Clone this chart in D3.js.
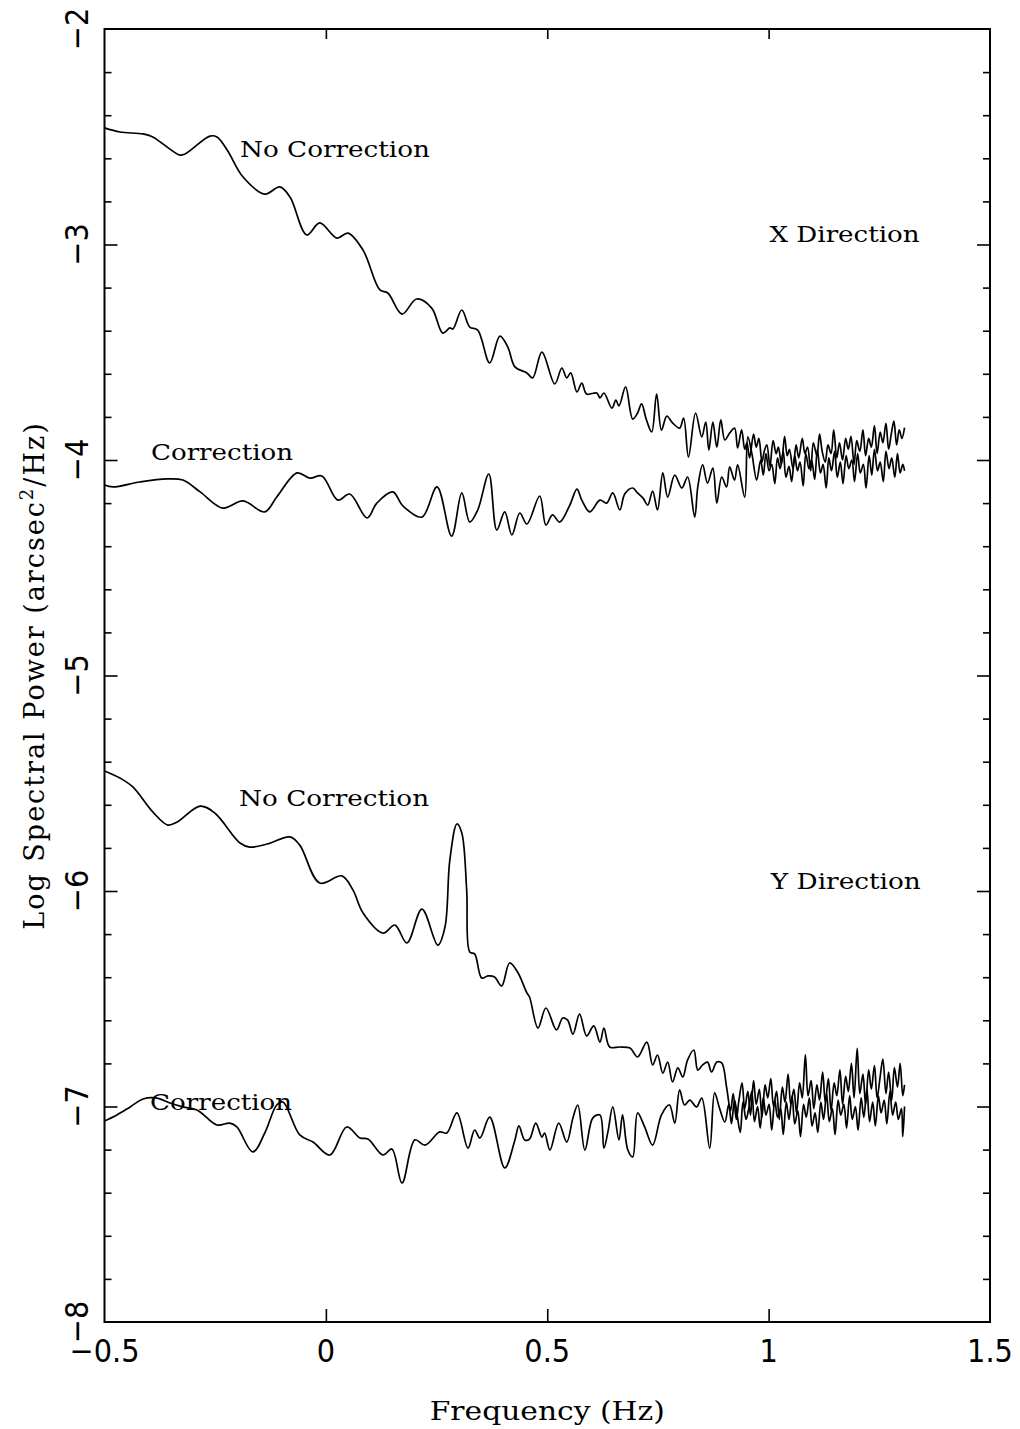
<!DOCTYPE html>
<html><head><meta charset="utf-8">
<script src="https://cdn.jsdelivr.net/npm/d3@7"></script>
<style>body{margin:0;background:#fff} svg{display:block}</style>
</head><body><svg id="c" width="1020" height="1429"></svg>
<script>
// ---- data: [frequency (Hz), log spectral power] ----
const xNoCorrection = [
[-0.5,-2.459],[-0.465,-2.478],[-0.413,-2.487],[-0.391,-2.501],[-0.330,-2.585],[-0.318,-2.580],[-0.262,-2.497],[-0.246,-2.501],
[-0.223,-2.561],[-0.187,-2.687],[-0.138,-2.766],[-0.104,-2.733],[-0.081,-2.780],[-0.043,-2.956],[-0.014,-2.900],[0.025,-2.970],
[0.050,-2.947],[0.084,-3.026],[0.122,-3.211],[0.140,-3.225],[0.172,-3.323],[0.205,-3.253],[0.239,-3.295],[0.264,-3.411],
[0.280,-3.387],[0.287,-3.392],[0.307,-3.304],[0.325,-3.383],[0.343,-3.397],[0.370,-3.550],[0.393,-3.425],[0.411,-3.476],
[0.427,-3.568],[0.454,-3.596],[0.467,-3.619],[0.488,-3.499],[0.517,-3.647],[0.533,-3.573],[0.544,-3.619],[0.553,-3.596],
[0.567,-3.684],[0.578,-3.643],[0.589,-3.694],[0.612,-3.689],[0.619,-3.712],[0.628,-3.689],[0.646,-3.759],[0.655,-3.722],
[0.662,-3.749],[0.677,-3.661],[0.693,-3.810],[0.704,-3.782],[0.713,-3.740],[0.724,-3.814],[0.736,-3.870],[0.747,-3.694],
[0.758,-3.861],[0.770,-3.796],[0.783,-3.828],[0.799,-3.852],[0.808,-3.805],[0.819,-3.986],[0.835,-3.782],[0.849,-3.893],
[0.858,-3.824],[0.865,-3.954],[0.874,-3.824],[0.883,-3.940],[0.892,-3.814],[0.901,-3.907],[0.912,-3.875],[0.923,-3.852],
[0.930,-3.944],[0.939,-3.86],[0.946,-3.95],[0.951,-3.92],[0.957,-3.99],[0.966,-3.88],[0.972,-3.94],[0.978,-3.90],
[0.985,-4.01],[0.990,-3.96],[0.996,-3.93],[1.003,-4.03],[1.010,-3.91],[1.017,-3.97],[1.022,-3.94],[1.029,-4.02],
[1.036,-3.89],[1.042,-3.98],[1.047,-3.95],[1.055,-4.04],[1.062,-3.93],[1.068,-3.99],[1.076,-3.90],[1.082,-3.97],
[1.088,-3.94],[1.095,-4.05],[1.101,-3.92],[1.109,-3.98],[1.115,-3.88],[1.121,-3.96],[1.128,-4.01],[1.134,-3.93],
[1.141,-3.97],[1.147,-3.86],[1.154,-3.99],[1.160,-3.92],[1.167,-4.00],[1.174,-3.90],[1.180,-3.95],[1.186,-3.89],
[1.193,-4.02],[1.199,-3.91],[1.206,-3.96],[1.213,-3.86],[1.219,-3.98],[1.226,-3.90],[1.232,-3.94],[1.239,-3.84],
[1.245,-3.97],[1.252,-3.87],[1.258,-3.92],[1.265,-3.83],[1.271,-3.95],[1.277,-3.88],[1.283,-3.82],[1.289,-3.93],
[1.295,-3.86],[1.301,-3.90],[1.307,-3.85]
];
const xCorrection = [
[-0.5,-4.116],[-0.481,-4.125],[-0.420,-4.102],[-0.359,-4.088],[-0.323,-4.093],[-0.284,-4.148],[-0.233,-4.223],[-0.187,-4.190],
[-0.138,-4.241],[-0.111,-4.172],[-0.065,-4.060],[-0.036,-4.084],[-0.009,-4.074],[0.027,-4.186],[0.054,-4.158],[0.093,-4.269],
[0.115,-4.200],[0.151,-4.148],[0.174,-4.213],[0.217,-4.265],[0.251,-4.125],[0.284,-4.353],[0.307,-4.153],[0.325,-4.288],
[0.343,-4.232],[0.368,-4.065],[0.386,-4.325],[0.404,-4.241],[0.420,-4.348],[0.438,-4.246],[0.454,-4.297],[0.483,-4.167],
[0.497,-4.302],[0.512,-4.255],[0.528,-4.288],[0.551,-4.209],[0.567,-4.135],[0.578,-4.186],[0.596,-4.241],[0.619,-4.186],
[0.634,-4.200],[0.648,-4.153],[0.664,-4.232],[0.675,-4.158],[0.693,-4.130],[0.704,-4.153],[0.716,-4.176],[0.727,-4.209],
[0.738,-4.144],[0.749,-4.232],[0.761,-4.060],[0.772,-4.172],[0.788,-4.070],[0.804,-4.130],[0.817,-4.079],[0.833,-4.265],
[0.840,-4.125],[0.851,-4.023],[0.862,-4.107],[0.874,-4.037],[0.883,-4.200],[0.894,-4.079],[0.905,-4.125],[0.912,-4.032],
[0.923,-4.093],[0.930,-4.023],[0.946,-4.172],[0.953,-3.893],[0.962,-3.968],[0.973,-4.093],[0.982,-4.00],[0.988,-4.07],
[0.994,-3.97],[1.001,-4.05],[1.007,-4.02],[1.014,-4.11],[1.020,-3.99],[1.026,-4.04],[1.033,-3.96],[1.039,-4.08],
[1.046,-4.03],[1.052,-4.10],[1.059,-3.98],[1.065,-4.05],[1.071,-4.01],[1.078,-4.12],[1.084,-3.97],[1.091,-4.04],
[1.097,-4.00],[1.104,-4.09],[1.110,-3.95],[1.117,-4.06],[1.123,-4.02],[1.130,-4.13],[1.136,-3.99],[1.142,-4.05],
[1.149,-3.96],[1.155,-4.08],[1.162,-4.01],[1.168,-4.11],[1.175,-3.98],[1.181,-4.04],[1.188,-4.00],[1.194,-4.10],
[1.201,-3.97],[1.207,-4.06],[1.214,-4.02],[1.220,-4.13],[1.227,-3.98],[1.233,-4.07],[1.239,-3.95],[1.246,-4.05],
[1.252,-4.01],[1.259,-4.10],[1.265,-3.96],[1.272,-4.04],[1.278,-3.99],[1.285,-4.08],[1.291,-3.97],[1.297,-4.06],
[1.303,-4.02],[1.307,-4.05]
];
const yNoCorrection = [
[-0.5,-5.443],[-0.465,-5.476],[-0.436,-5.517],[-0.391,-5.633],[-0.357,-5.694],[-0.336,-5.680],[-0.284,-5.606],[-0.251,-5.638],
[-0.194,-5.777],[-0.172,-5.796],[-0.133,-5.782],[-0.081,-5.749],[-0.059,-5.787],[-0.014,-5.963],[0.036,-5.930],[0.061,-5.995],
[0.084,-6.102],[0.129,-6.195],[0.156,-6.158],[0.183,-6.241],[0.217,-6.084],[0.253,-6.251],[0.269,-6.167],[0.280,-5.856],
[0.296,-5.689],[0.307,-5.731],[0.318,-5.995],[0.325,-6.283],[0.336,-6.292],[0.352,-6.404],[0.366,-6.394],[0.381,-6.399],
[0.397,-6.441],[0.415,-6.334],[0.433,-6.376],[0.454,-6.473],[0.460,-6.492],[0.479,-6.636],[0.497,-6.543],[0.521,-6.645],
[0.535,-6.589],[0.546,-6.599],[0.558,-6.664],[0.573,-6.571],[0.589,-6.673],[0.605,-6.626],[0.619,-6.701],[0.628,-6.636],
[0.641,-6.724],[0.664,-6.724],[0.687,-6.729],[0.704,-6.770],[0.725,-6.701],[0.738,-6.807],[0.749,-6.761],[0.761,-6.845],
[0.772,-6.794],[0.783,-6.886],[0.795,-6.821],[0.806,-6.863],[0.817,-6.784],[0.831,-6.738],[0.840,-6.831],[0.851,-6.807],
[0.862,-6.794],[0.871,-6.840],[0.883,-6.794],[0.894,-6.798],[0.905,-6.910],[0.914,-7.02],[0.920,-6.94],[0.927,-7.06],
[0.933,-6.97],[0.940,-6.89],[0.946,-7.01],[0.953,-6.93],[0.959,-7.04],[0.966,-6.88],[0.972,-6.99],[0.979,-6.92],
[0.985,-7.05],[0.992,-6.90],[0.998,-6.96],[1.005,-6.87],[1.011,-7.00],[1.018,-6.93],[1.024,-7.06],[1.031,-6.91],
[1.037,-6.98],[1.044,-6.85],[1.050,-6.99],[1.057,-6.92],[1.063,-7.03],[1.070,-6.89],[1.076,-6.96],[1.083,-6.76],
[1.089,-6.95],[1.096,-6.88],[1.102,-7.01],[1.109,-6.90],[1.115,-6.97],[1.122,-6.84],[1.128,-6.98],[1.135,-6.87],
[1.141,-7.02],[1.148,-6.89],[1.154,-6.95],[1.161,-6.83],[1.167,-6.99],[1.174,-6.86],[1.180,-6.93],[1.187,-6.80],
[1.193,-6.96],[1.200,-6.73],[1.206,-6.94],[1.213,-6.85],[1.219,-6.99],[1.226,-6.83],[1.232,-6.92],[1.239,-6.81],
[1.245,-6.96],[1.252,-6.86],[1.258,-6.78],[1.265,-6.94],[1.271,-6.84],[1.278,-6.97],[1.284,-6.82],[1.291,-6.91],
[1.297,-6.80],[1.303,-6.95],[1.307,-6.90]
];
const yCorrection = [
[-0.5,-7.067],[-0.472,-7.039],[-0.442,-7.002],[-0.413,-6.965],[-0.381,-6.961],[-0.352,-6.984],[-0.323,-7.002],[-0.291,-7.016],
[-0.246,-7.086],[-0.217,-7.077],[-0.201,-7.095],[-0.165,-7.211],[-0.138,-7.123],[-0.111,-6.993],[-0.097,-6.979],[-0.059,-7.132],
[-0.029,-7.165],[0.009,-7.225],[0.047,-7.095],[0.077,-7.146],[0.095,-7.151],[0.129,-7.225],[0.149,-7.197],[0.172,-7.355],
[0.201,-7.155],[0.224,-7.179],[0.257,-7.118],[0.273,-7.123],[0.296,-7.030],[0.321,-7.193],[0.336,-7.109],[0.348,-7.146],
[0.370,-7.049],[0.404,-7.285],[0.427,-7.155],[0.436,-7.090],[0.449,-7.155],[0.460,-7.151],[0.474,-7.077],[0.488,-7.142],
[0.494,-7.123],[0.506,-7.202],[0.526,-7.077],[0.544,-7.165],[0.558,-7.053],[0.569,-6.993],[0.585,-7.202],[0.603,-7.053],
[0.619,-7.039],[0.628,-7.193],[0.637,-7.118],[0.648,-7.002],[0.662,-7.155],[0.670,-7.039],[0.682,-7.202],[0.693,-7.234],
[0.704,-7.030],[0.720,-7.095],[0.738,-7.179],[0.758,-7.039],[0.776,-6.993],[0.788,-7.077],[0.799,-6.923],[0.810,-6.993],
[0.822,-6.970],[0.837,-7.002],[0.849,-6.961],[0.867,-7.193],[0.878,-6.937],[0.889,-7.007],[0.901,-7.072],[0.910,-6.99],
[0.916,-7.08],[0.923,-6.97],[0.929,-7.04],[0.936,-7.12],[0.942,-6.98],[0.949,-7.06],[0.955,-7.01],[0.962,-6.93],
[0.968,-7.07],[0.975,-7.00],[0.981,-7.10],[0.988,-6.96],[0.994,-7.04],[1.001,-6.99],[1.007,-7.11],[1.014,-6.97],
[1.020,-7.05],[1.027,-7.01],[1.033,-7.13],[1.040,-6.98],[1.046,-7.06],[1.053,-6.95],[1.059,-7.08],[1.066,-7.02],
[1.072,-7.14],[1.079,-6.99],[1.085,-7.05],[1.092,-6.96],[1.098,-7.09],[1.105,-7.03],[1.111,-7.12],[1.118,-6.98],
[1.124,-7.06],[1.131,-6.94],[1.137,-7.07],[1.144,-7.01],[1.150,-7.13],[1.157,-6.97],[1.163,-7.04],[1.170,-6.99],
[1.176,-7.10],[1.183,-6.95],[1.189,-7.06],[1.196,-7.00],[1.202,-7.11],[1.209,-6.96],[1.215,-7.05],[1.222,-6.92],
[1.228,-7.07],[1.235,-6.98],[1.241,-7.09],[1.248,-6.95],[1.254,-7.03],[1.261,-6.97],[1.267,-7.08],[1.274,-6.93],
[1.280,-7.04],[1.287,-6.98],[1.293,-7.06],[1.300,-7.01],[1.303,-7.14],[1.307,-7.00]
];
const xTickValues = [-0.5, 0, 0.5, 1, 1.5];
const xTickLabels = ["\u22120.5", "0", "0.5", "1", "1.5"];
const yTickValues = [-8, -7, -6, -5, -4, -3, -2];
const yTickLabels = ["\u22128", "\u22127", "\u22126", "\u22125", "\u22124", "\u22123", "\u22122"];
const annotationText = ["No Correction", "X Direction", "Correction", "No Correction", "Y Direction", "Correction"];
const annotationAt = [[-0.194,-2.557],[1.002,-2.951],[-0.395,-3.963],[-0.196,-5.568],[1.005,-5.954],[-0.397,-6.979]];
const xTitle = "Frequency (Hz)";

// ---- drawing ----
const svg = d3.select("#c");
const x = d3.scaleLinear().domain([-0.5, 1.5]).range([104.5, 990]);
const y = d3.scaleLinear().domain([-8, -2]).range([1322, 29]);
const serif = "'DejaVu Serif', 'Liberation Serif', serif";
const narrow = "'Liberation Sans Narrow', 'DejaVu Sans Condensed', sans-serif";

svg.append("rect").attr("width", 1020).attr("height", 1429).attr("fill", "#fff");

// frame
svg.append("rect")
  .attr("x", x(-0.5)).attr("y", y(-2))
  .attr("width", x(1.5) - x(-0.5)).attr("height", y(-8) - y(-2))
  .attr("fill", "none").attr("stroke", "#000").attr("stroke-width", 2);

const minorY = d3.range(0, 31).filter(i => i % 5 !== 0).map(i => -8 + i * 0.2);
const innerX = [0, 0.5, 1];
function styleAxis(g) {
  g.select(".domain").remove();
  g.selectAll(".tick line").attr("stroke", "#000").attr("stroke-width", 1.6);
  g.selectAll(".tick text").remove();
}
svg.append("g").attr("transform", `translate(${x(-0.5)},0)`)
  .call(d3.axisLeft(y).tickValues(yTickValues.slice(1, -1)).tickSize(-13)).call(styleAxis);
svg.append("g").attr("transform", `translate(${x(-0.5)},0)`)
  .call(d3.axisLeft(y).tickValues(minorY).tickSize(-7)).call(styleAxis);
svg.append("g").attr("transform", `translate(${x(1.5)},0)`)
  .call(d3.axisRight(y).tickValues(yTickValues.slice(1, -1)).tickSize(-13)).call(styleAxis);
svg.append("g").attr("transform", `translate(${x(1.5)},0)`)
  .call(d3.axisRight(y).tickValues(minorY).tickSize(-7)).call(styleAxis);
svg.append("g").attr("transform", `translate(0,${y(-8)})`)
  .call(d3.axisBottom(x).tickValues(innerX).tickSize(-13)).call(styleAxis);
svg.append("g").attr("transform", `translate(0,${y(-2)})`)
  .call(d3.axisTop(x).tickValues(innerX).tickSize(-10)).call(styleAxis);

// tick labels
svg.append("g").selectAll("text").data(xTickValues).join("text")
  .attr("x", d => x(d)).attr("y", y(-8) + 40)
  .attr("text-anchor", "middle")
  .attr("font-family", narrow).attr("font-size", 32).attr("fill", "#000")
  .text((d, i) => xTickLabels[i]);
svg.append("g").selectAll("text").data(yTickValues).join("text")
  .attr("transform", d => `translate(88,${y(d)}) rotate(-90)`)
  .attr("text-anchor", "middle")
  .attr("font-family", narrow).attr("font-size", 32).attr("fill", "#000")
  .text((d, i) => yTickLabels[i]);

// axis titles
svg.append("text")
  .attr("x", (x(-0.5) + x(1.5)) / 2).attr("y", 1420)
  .attr("text-anchor", "middle")
  .attr("font-family", serif).attr("font-size", 26).attr("fill", "#000")
  .attr("textLength", 235).attr("lengthAdjust", "spacingAndGlyphs")
  .text(xTitle);
const yt = svg.append("text")
  .attr("transform", `translate(44,${(y(-2) + y(-8)) / 2}) rotate(-90)`)
  .attr("text-anchor", "middle")
  .attr("font-family", serif).attr("font-size", 27).attr("letter-spacing", 2).attr("fill", "#000");
yt.append("tspan").text("Log Spectral Power (arcsec");
yt.append("tspan").attr("font-size", 18).attr("dy", -11).text("2");
yt.append("tspan").attr("dy", 11).text("/Hz)");

// curves
const line = d3.line().x(d => x(d[0])).y(d => y(d[1])).curve(d3.curveCatmullRom.alpha(0.5));
[xNoCorrection, xCorrection, yNoCorrection, yCorrection].forEach(s => {
  svg.append("path").datum(s).attr("d", line)
    .attr("fill", "none").attr("stroke", "#000").attr("stroke-width", 1.7)
    .attr("stroke-linejoin", "round");
});

// annotations
const widths = {"No Correction": 190, "X Direction": 150, "Correction": 142, "Y Direction": 150};
svg.append("g").selectAll("text").data(annotationText).join("text")
  .attr("x", (d, i) => x(annotationAt[i][0]))
  .attr("y", (d, i) => y(annotationAt[i][1]) + 8)
  .attr("font-family", serif).attr("font-size", 23).attr("fill", "#000")
  .attr("textLength", d => widths[d]).attr("lengthAdjust", "spacingAndGlyphs")
  .text(d => d);
</script>
</body></html>
